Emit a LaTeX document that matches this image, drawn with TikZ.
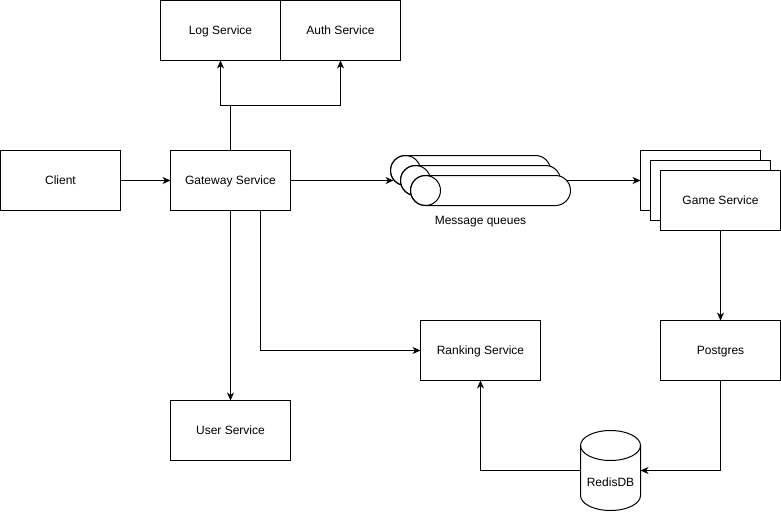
\documentclass[tikz,border=0pt]{standalone}
\usepackage{fontspec}
\setmainfont{Liberation Sans}
\usetikzlibrary{arrows.meta}
\begin{document}
\begin{tikzpicture}[x=1pt,y=-1pt,line width=1pt,
  txt/.style={font=\fontsize{12}{14}\selectfont,text height=8.6pt,text depth=0pt},
  box/.style={draw,fill=white,minimum width=120pt,minimum height=60pt,inner sep=0pt,outer sep=0pt,txt},
  conn/.style={-{Stealth[length=8pt,width=7pt,inset=2.5pt]}},
  queue/.pic={
    \draw[fill=white] (-65,-15) -- (65,-15) arc[start angle=90,end angle=-90,radius=15pt]
      -- (-65,15) arc[start angle=270,end angle=90,radius=15pt] -- cycle;
    \draw (-65,0) circle[radius=15pt];
  }]
\useasboundingbox (-0.5,-0.5) rectangle (780.5,510.5);
% boxes
\node[box] (log) at (220,30) {Log Service};
\node[box] (auth) at (340,30) {Auth Service};
\node[box] (client) at (60,180) {Client};
\node[box] (gw) at (230,180) {Gateway Service};
\node[box] (user) at (230,430) {User Service};
\node[box] (rank) at (480,350) {Ranking Service};
\node[box] (pg) at (720,350) {Postgres};
\node[box] (g1) at (700,180) {};
\node[box] (g2) at (710,190) {};
\node[box] (game) at (720,200) {Game Service};
% queues
\coordinate (qout) at (566,180);
\draw (560,180) -- (qout);
\pic at (470,170) {queue};
\pic at (480,180) {queue};
\pic at (490,190) {queue};
\coordinate (qin) at (393,180);
\node[txt,inner sep=0pt] (ql) at (480,220) {Message queues};
% redis cylinder
\draw[fill=white] (580,445) -- (580,495) arc[start angle=180,end angle=360,x radius=30pt,y radius=15pt]
  -- (640,445) arc[start angle=0,end angle=180,x radius=30pt,y radius=15pt] -- cycle;
\draw (580,445) arc[start angle=180,end angle=360,x radius=30pt,y radius=15pt];
\node[minimum width=60pt,minimum height=80pt,inner sep=0pt,outer sep=0pt] (redis) at (610,470) {};
\node[txt,inner sep=0pt] (rl) at (610,482) {RedisDB};
% connectors
\draw[conn] (client.east) -- (gw.west);
\coordinate (split) at (230,105);
\draw (gw.north) -- (split);
\draw[conn] (split) -| (log.south);
\draw[conn] (split) -| (auth.south);
\draw[conn] (gw.south) -- (user.north);
\draw[conn] ([xshift=30pt]gw.south) |- (rank.west);
\draw[conn] (gw.east) -- (qin);
\draw[conn] (qout) -- (g1.west);
\draw[conn] (game.south) -- (pg.north);
\draw[conn] (pg.south) |- (redis.east);
\draw[conn] (redis.west) -| (rank.south);
\end{tikzpicture}
\end{document}
